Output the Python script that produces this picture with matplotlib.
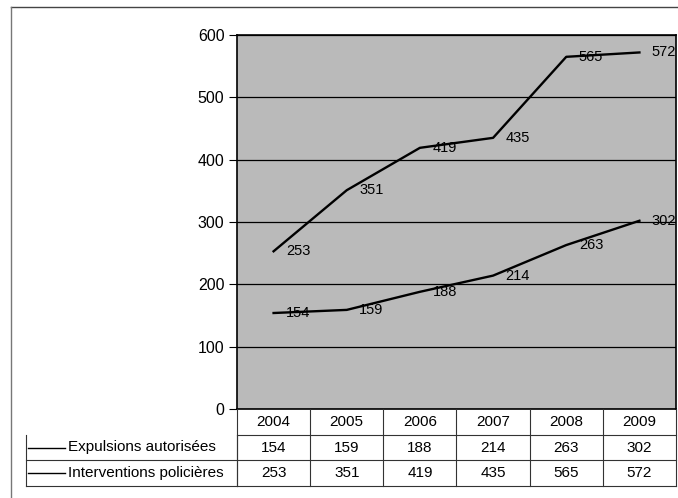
import matplotlib
matplotlib.use("Agg")
import matplotlib.pyplot as plt
from matplotlib.lines import Line2D
from matplotlib.transforms import blended_transform_factory

years = ["2004", "2005", "2006", "2007", "2008", "2009"]
expulsions = [154, 159, 188, 214, 263, 302]
interventions = [253, 351, 419, 435, 565, 572]
series_names = ["Expulsions autorisées", "Interventions policières"]
yticks = [0, 100, 200, 300, 400, 500, 600]

plt.rcParams['font.family'] = ['Liberation Sans', 'DejaVu Sans']

W, H = 678, 498
fig = plt.figure(figsize=(W / 100, H / 100), dpi=100)
fig.patch.set_facecolor('white')

def fx(px):
    return px / W

def fy(py):
    return 1 - py / H

left, right, top, bottom = 237, 676, 35, 409
ax = fig.add_axes([fx(left), fy(bottom), fx(right - left), (bottom - top) / H])
ax.set_facecolor('#bababa')
ax.set_xlim(-0.5, len(years) - 0.5)
ax.set_ylim(0, 600)
ax.set_yticks(yticks)
ax.set_xticks([])
ax.tick_params(axis='y', length=6, width=0.8, labelsize=11.5, pad=3, color='black')
for s in ax.spines.values():
    s.set_color('black')
    s.set_linewidth(1.2)
ax.grid(axis='y', color='black', linewidth=0.9)
ax.set_axisbelow(True)

x = list(range(len(years)))
for vals in (expulsions, interventions):
    ax.plot(x, vals, color='black', linewidth=1.7, solid_joinstyle='round')
    for xi, v in zip(x, vals):
        ax.annotate(str(v), (xi, v), xytext=(9, 0), textcoords='offset points',
                    va='center', ha='left', fontsize=10.5, color='black',
                    annotation_clip=False, clip_on=True)

# Data table below the axes
tr = blended_transform_factory(ax.transData, fig.transFigure)
rows_y = [409, 435, 460, 486]
lc = '#333333'
lw = 0.8
fig.add_artist(Line2D([fx(left), fx(right)], [fy(rows_y[1])] * 2, color=lc, lw=lw))
for ry in rows_y[2:]:
    fig.add_artist(Line2D([fx(26), fx(right)], [fy(ry)] * 2, color=lc, lw=lw))
fig.add_artist(Line2D([fx(26), fx(26)], [fy(rows_y[1]), fy(rows_y[3])], color=lc, lw=lw))
fig.add_artist(Line2D([fx(left), fx(left)], [fy(rows_y[1]), fy(rows_y[3])], color=lc, lw=lw))
for i in range(len(years) + 1):
    xb = i - 0.5
    fig.add_artist(Line2D([xb, xb], [fy(rows_y[0]), fy(rows_y[3])], color=lc, lw=lw,
                          transform=tr))

def rowc(i):
    return fy((rows_y[i] + rows_y[i + 1]) / 2)

fs = 11
for i, yr in enumerate(years):
    fig.text(i, rowc(0), yr, transform=tr, ha='center', va='center', fontsize=fs)
    fig.text(i, rowc(1), str(expulsions[i]), transform=tr, ha='center', va='center', fontsize=fs)
    fig.text(i, rowc(2), str(interventions[i]), transform=tr, ha='center', va='center', fontsize=fs)

for r, name in zip((1, 2), series_names):
    fig.add_artist(Line2D([fx(28), fx(65)], [rowc(r)] * 2, color='black', lw=1.0))
    fig.text(fx(68), rowc(r), name, ha='left', va='center', fontsize=fs)

# outer border
fig.add_artist(Line2D([fx(11), fx(678)], [fy(7)] * 2, color='#444444', lw=1.0))
fig.add_artist(Line2D([fx(11), fx(11)], [fy(7), fy(498)], color='#777777', lw=1.0))

fig.savefig('out.png', dpi=100)
